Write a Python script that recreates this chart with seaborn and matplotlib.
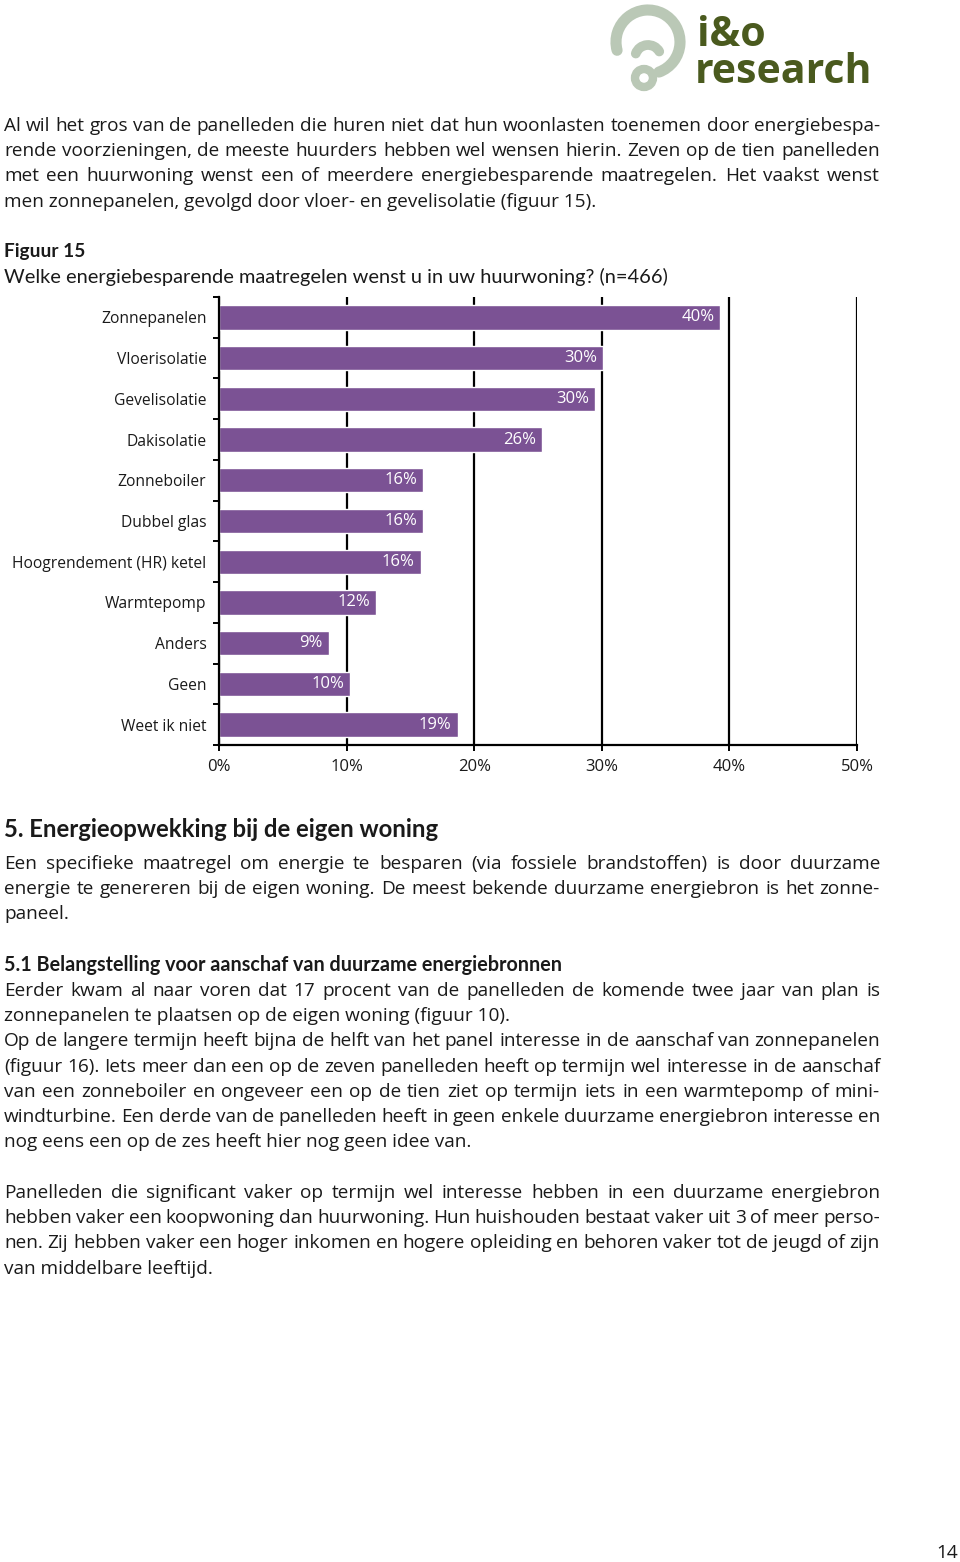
import numpy as np
import pandas as pd
import matplotlib
matplotlib.use("Agg")
import matplotlib.pyplot as plt
import seaborn as sns
from matplotlib.patches import Arc, Circle

# ---------------- data ----------------
categories = ["Zonnepanelen", "Vloerisolatie", "Gevelisolatie", "Dakisolatie",
              "Zonneboiler", "Dubbel glas", "Hoogrendement (HR) ketel",
              "Warmtepomp", "Anders", "Geen", "Weet ik niet"]
values = [39.3, 30.1, 29.5, 25.3, 16.0, 16.0, 15.8, 12.3, 8.6, 10.3, 18.7]
value_labels = ["40%", "30%", "30%", "26%", "16%", "16%", "16%", "12%", "9%", "10%", "19%"]
xticks = [0, 10, 20, 30, 40, 50]
xtick_labels = ["0%", "10%", "20%", "30%", "40%", "50%"]

para1 = [
    "Al wil het gros van de panelleden die huren niet dat hun woonlasten toenemen door energiebespa-",
    "rende voorzieningen, de meeste huurders hebben wel wensen hierin. Zeven op de tien panelleden",
    "met een huurwoning wenst een of meerdere energiebesparende maatregelen. Het vaakst wenst",
    "men zonnepanelen, gevolgd door vloer- en gevelisolatie (figuur 15).",
]
para2 = [
    "Een specifieke maatregel om energie te besparen (via fossiele brandstoffen) is door duurzame",
    "energie te genereren bij de eigen woning. De meest bekende duurzame energiebron is het zonne-",
    "paneel.",
]
para3 = [
    "Eerder kwam al naar voren dat 17 procent van de panelleden de komende twee jaar van plan is",
    "zonnepanelen te plaatsen op de eigen woning (figuur 10).",
    "Op de langere termijn heeft bijna de helft van het panel interesse in de aanschaf van zonnepanelen",
    "(figuur 16). Iets meer dan een op de zeven panelleden heeft op termijn wel interesse in de aanschaf",
    "van een zonneboiler en ongeveer een op de tien ziet op termijn iets in een warmtepomp of mini-",
    "windturbine. Een derde van de panelleden heeft in geen enkele duurzame energiebron interesse en",
    "nog eens een op de zes heeft hier nog geen idee van.",
]
para4 = [
    "Panelleden die significant vaker op termijn wel interesse hebben in een duurzame energiebron",
    "hebben vaker een koopwoning dan huurwoning. Hun huishouden bestaat vaker uit 3 of meer perso-",
    "nen. Zij hebben vaker een hoger inkomen en hogere opleiding en behoren vaker tot de jeugd of zijn",
    "van middelbare leeftijd.",
]
fig_title = "Figuur 15"
fig_question = "Welke energiebesparende maatregelen wenst u in uw huurwoning? (n=466)"
heading5 = "5. Energieopwekking bij de eigen woning"
heading51 = "5.1 Belangstelling voor aanschaf van duurzame energiebronnen"

# ---------------- style ----------------
sns.set_theme(style="white")
BODY = "Open Sans"
HEAD = "Lato"
plt.rcParams["font.family"] = [BODY, "DejaVu Sans"]
TXT = "#1a1a1a"
PURPLE = "#7b5294"

W, H = 960, 1562
fig = plt.figure(figsize=(W / 100, H / 100), dpi=100)
bg = fig.add_axes([0, 0, 1, 1])
bg.set_xlim(0, W)
bg.set_ylim(H, 0)
bg.axis("off")
renderer = fig.canvas.get_renderer()


def text_width(s, **kw):
    t = bg.text(0, 0, s, **kw)
    w = t.get_window_extent(renderer).width
    t.remove()
    return w


def fit_size(s, target, **kw):
    return 10.0 * target / text_width(s, fontsize=10.0, **kw)


BODY_SIZE = fit_size(para1[3], 594, family=[BODY])


def draw_line(s, y, justify=True, x0=4, x1=880, **kw):
    kw.setdefault("color", TXT)
    kw.setdefault("fontsize", BODY_SIZE)
    kw.setdefault("family", [BODY])
    words = s.split(" ")
    if not justify or len(words) == 1:
        bg.text(x0, y, s, ha="left", va="baseline", **kw)
        return
    widths = [text_width(w, **kw) for w in words]
    gap = (x1 - x0 - sum(widths)) / (len(words) - 1)
    x = x0
    for w, wd in zip(words, widths):
        bg.text(x, y, w, ha="left", va="baseline", **kw)
        x += wd + gap


def draw_para(lines, y0, step=25.2, unjust=()):
    for i, ln in enumerate(lines):
        draw_line(ln, y0 + i * step, justify=(i not in unjust))


# ---------------- logo ----------------
ring = "#bac8b6"
olive = "#4a5a1e"
bg.add_patch(Arc((648, 42), 64, 64, theta1=165, theta2=70, lw=8, color=ring, capstyle="round"))
bg.add_patch(Arc((648, 58), 26, 26, theta1=200, theta2=330, lw=7, color=ring, capstyle="round"))
bg.add_patch(Circle((644, 78), 9, fill=False, lw=6, ec=ring))
logo_size = fit_size("research", 178, family=[BODY], fontweight="bold")
bg.text(697, 46, "i&o", fontsize=logo_size, fontweight="bold", family=[BODY], color=olive,
        ha="left", va="baseline")
bg.text(695, 83, "research", fontsize=logo_size, fontweight="bold", family=[BODY], color=olive,
        ha="left", va="baseline")

# ---------------- body text ----------------
draw_para(para1, 131, unjust=(3,))
bg.text(4, 257, fig_title, fontsize=fit_size(fig_title, 81, family=[HEAD], fontweight="bold"),
        family=[HEAD], fontweight="bold", color=TXT, va="baseline")
bg.text(4, 283, fig_question, fontsize=fit_size(fig_question, 666, family=[HEAD]),
        family=[HEAD], color=TXT, va="baseline")
bg.text(4, 837, heading5, fontsize=fit_size(heading5, 434, family=[HEAD], fontweight="bold"),
        family=[HEAD], fontweight="bold", color=TXT, va="baseline")
draw_para(para2, 869, unjust=(2,))
bg.text(4, 971, heading51, fontsize=fit_size(heading51, 558, family=[HEAD], fontweight="bold"),
        family=[HEAD], fontweight="bold", color=TXT, va="baseline")
draw_para(para3, 996, unjust=(1, 6))
draw_para(para4, 1198, unjust=(3,))
bg.text(947, 1558, "14", fontsize=BODY_SIZE, family=[BODY], color=TXT, ha="center", va="baseline")

# ---------------- chart ----------------
cat_size = fit_size("Hoogrendement (HR) ketel", 193, family=[BODY])
tick_size = fit_size("10%", 33, family=[BODY])

ax = fig.add_axes([219 / W, 1 - 745 / H, (857 - 219) / W, (745 - 297) / H])
df = pd.DataFrame({"cat": categories, "val": values})
sns.barplot(data=df, x="val", y="cat", color=PURPLE, saturation=1, width=0.6,
            orient="h", ax=ax)
ax.set_xlim(0, 50)
ax.set_ylim(len(categories) - 0.5, -0.5)
ax.set_xlabel("")
ax.set_ylabel("")
ax.set_axisbelow(True)
ax.xaxis.grid(True, color="black", lw=1.6)
ax.yaxis.grid(False)
for s in ["top", "right"]:
    ax.spines[s].set_visible(False)
for s in ["left", "bottom"]:
    ax.spines[s].set_color("black")
    ax.spines[s].set_linewidth(1.6)
ax.set_xticks(xticks)
ax.set_xticklabels(xtick_labels)
ax.tick_params(axis="x", bottom=True, length=4, width=1.4, color="black", pad=6,
               labelsize=tick_size, labelcolor=TXT)
ax.set_yticks(np.arange(-0.5, len(categories), 1.0), minor=True)
ax.tick_params(axis="y", which="major", left=False, length=0, pad=9, labelsize=cat_size,
               labelcolor=TXT)
ax.tick_params(axis="y", which="minor", left=True, length=4, width=1.4, color="black")
for i, (v, lab) in enumerate(zip(values, value_labels)):
    ax.annotate(lab, (v, i), xytext=(-6, 0), textcoords="offset pixels", ha="right",
                va="center", color="white", fontsize=tick_size)

fig.savefig("out.png", dpi=100)
